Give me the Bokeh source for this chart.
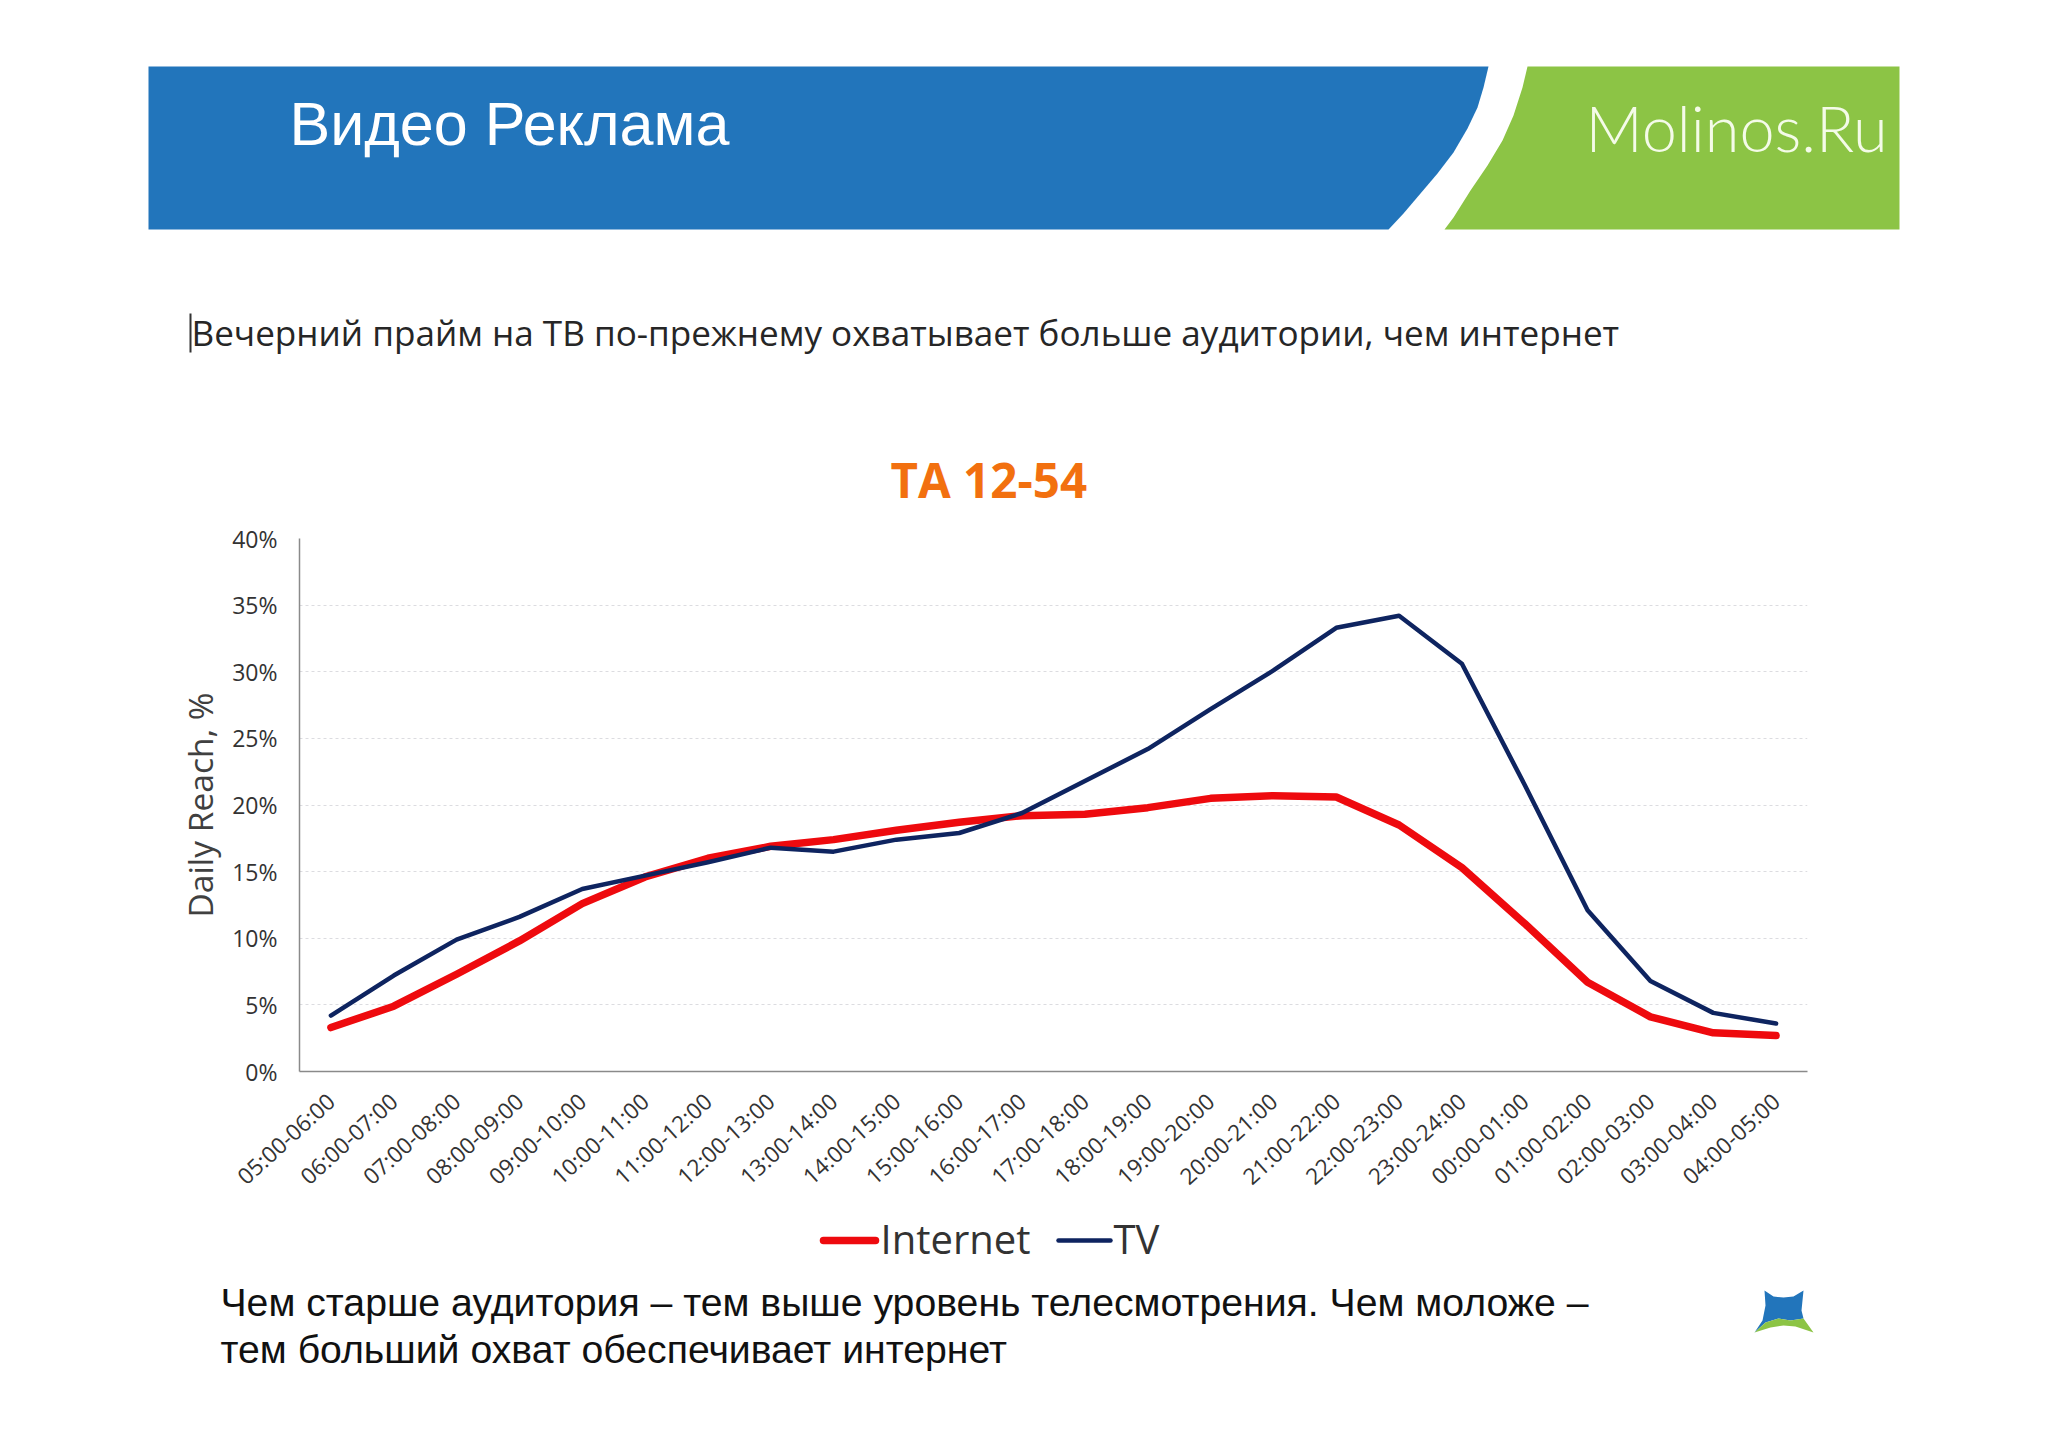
from bokeh.core.properties import value
from bokeh.embed import file_html
from bokeh.resources import INLINE
from bokeh.plotting import figure
from bokeh.models import FixedTicker

hours = ["05:00-06:00","06:00-07:00","07:00-08:00","08:00-09:00","09:00-10:00","10:00-11:00",
         "11:00-12:00","12:00-13:00","13:00-14:00","14:00-15:00","15:00-16:00","16:00-17:00",
         "17:00-18:00","18:00-19:00","19:00-20:00","20:00-21:00","21:00-22:00","22:00-23:00",
         "23:00-24:00","00:00-01:00","01:00-02:00","02:00-03:00","03:00-04:00","04:00-05:00"]
internet = [3.3,4.9,7.3,9.8,12.6,14.6,16.0,16.9,17.4,18.1,18.7,19.2,19.3,19.8,20.5,20.7,20.6,18.5,15.3,11.1,6.7,4.1,2.9,2.7]
tv = [4.2,7.2,9.9,11.6,13.7,14.7,15.7,16.8,16.5,17.4,17.9,19.4,21.8,24.2,27.2,30.1,33.3,34.2,30.6,21.5,12.1,6.8,4.4,3.6]
y_ticks = [0,5,10,15,20,25,30,35,40]
y_labels = {v: f"{v}%" for v in y_ticks}

W = 2040
TOP_H, CHART_H, BOT_H = 505, 706, 229
RED, NAVY = "#EE0A0E", "#0E2460"

def panel(y0, h):
    f = figure(width=W, height=h, x_range=(0, W), y_range=(y0+h, y0), output_backend="svg", toolbar_location=None,
               x_axis_location=None, y_axis_location=None, min_border=0, outline_line_color=None,
               background_fill_color="white", border_fill_color="white")
    f.grid.visible = False
    return f
def poly(f, pts, color):
    f.patch([a for a,b in pts], [b for a,b in pts], fill_color=color, line_color=None)
def text(f, x, y, s, font, size, color, style="normal"):
    f.text([x], [y], text=[s], text_font=value(font), text_font_size=f"{size}px", text_color=color,
           text_font_style=style, text_baseline="middle", text_align="left")

top = panel(0, TOP_H)
poly(top, [(148,66),(1488,66),(1483,87),(1477,107),(1467,128),(1453,152),(1437,173),(1420,193),(1403,213),(1388,229),(148,229)], "#2275BB")
poly(top, [(1527,66),(1899,66),(1899,229),(1444,229),(1453,217),(1470,190),(1487,165),(1502,140),(1513,115),(1522,87)], "#8CC445")
poly(top, [(189,313),(191,313),(191,352),(189,352)], "#333333")
text(top, 289, 123, "Видео Реклама", "Liberation Sans", 61, "white")
text(top, 1585, 127, "Molinos.Ru", "Lato Light", 63, "#F4FBE8")
text(top, 191, 331, "Вечерний прайм на ТВ по-прежнему охватывает больше аудитории, чем интернет", "Open Sans", 35.1, "#262626")
text(top, 890, 479, "ТА 12-54", "Open Sans", 47.5, "#F2700F", "bold")

p = figure(width=W, height=CHART_H, x_range=hours, y_range=(0,40), output_backend="svg", toolbar_location=None,
           min_border_left=299, min_border_right=233, min_border_top=33, min_border_bottom=140,
           background_fill_color="white", border_fill_color="white", outline_line_color=None)
p.xgrid.visible = False
p.ygrid.grid_line_color = "#dcdce0"
p.ygrid.grid_line_dash = [3,3]
p.ygrid.grid_line_width = 1.2
p.yaxis.ticker = FixedTicker(ticks=y_ticks)
p.yaxis.major_label_overrides = y_labels
p.yaxis.major_tick_line_color = None
p.yaxis.minor_tick_line_color = None
p.xaxis.major_tick_line_color = None
p.xaxis.axis_line_color = "#8a8a8a"
p.yaxis.axis_line_color = "#8a8a8a"
p.xaxis.axis_line_width = 1.5
p.yaxis.axis_line_width = 1.5
p.yaxis.major_label_text_font = "Open Sans"
p.xaxis.major_label_text_font = "Open Sans"
p.yaxis.major_label_text_font_size = "23px"
p.xaxis.major_label_text_font_size = "22.5px"
p.yaxis.major_label_text_color = "#333333"
p.xaxis.major_label_text_color = "#333333"
p.yaxis.major_label_standoff = 16
p.xaxis.major_label_standoff = 20
p.xaxis.major_label_orientation = 0.74
p.yaxis.axis_label = "Daily Reach, %"
p.yaxis.axis_label_text_font = "Open Sans"
p.yaxis.axis_label_text_font_style = "normal"
p.yaxis.axis_label_text_font_size = "33.5px"
p.yaxis.axis_label_text_color = "#404040"
p.yaxis.axis_label_standoff = 6

p.line(hours, internet, line_color=RED, line_width=7.5, line_join="round", line_cap="round")
p.line(hours, tv, line_color=NAVY, line_width=4.5, line_join="round", line_cap="round")

bot = panel(TOP_H+CHART_H, BOT_H)
bot.line([823,875], [1240,1240], line_color=RED, line_width=7.5, line_cap="round")
bot.line([1058,1110], [1240,1240], line_color=NAVY, line_width=4.5, line_cap="round")
text(bot, 880, 1238, "Internet", "Open Sans", 40, "#333333")
text(bot, 1113, 1238, "TV", "Open Sans", 40, "#333333")
text(bot, 220, 1302, "Чем старше аудитория – тем выше уровень телесмотрения. Чем моложе –", "Liberation Sans", 39.2, "#111111")
text(bot, 220, 1349, "тем больший охват обеспечивает интернет", "Liberation Sans", 39.2, "#111111")
poly(bot, [(1764,1290),(1773,1296),(1783,1297),(1793,1296),(1803,1290),(1801,1310),(1803,1318),(1790,1320),(1778,1318),(1765,1322),(1754,1332),(1762,1320),(1765,1305)], "#2275BB")
poly(bot, [(1778,1318),(1790,1320),(1803,1318),(1813,1332),(1795,1326),(1783,1325),(1770,1327),(1754,1332),(1765,1322)], "#8CC445")

open("out.html", "w").write(file_html([top, p, bot], INLINE))
